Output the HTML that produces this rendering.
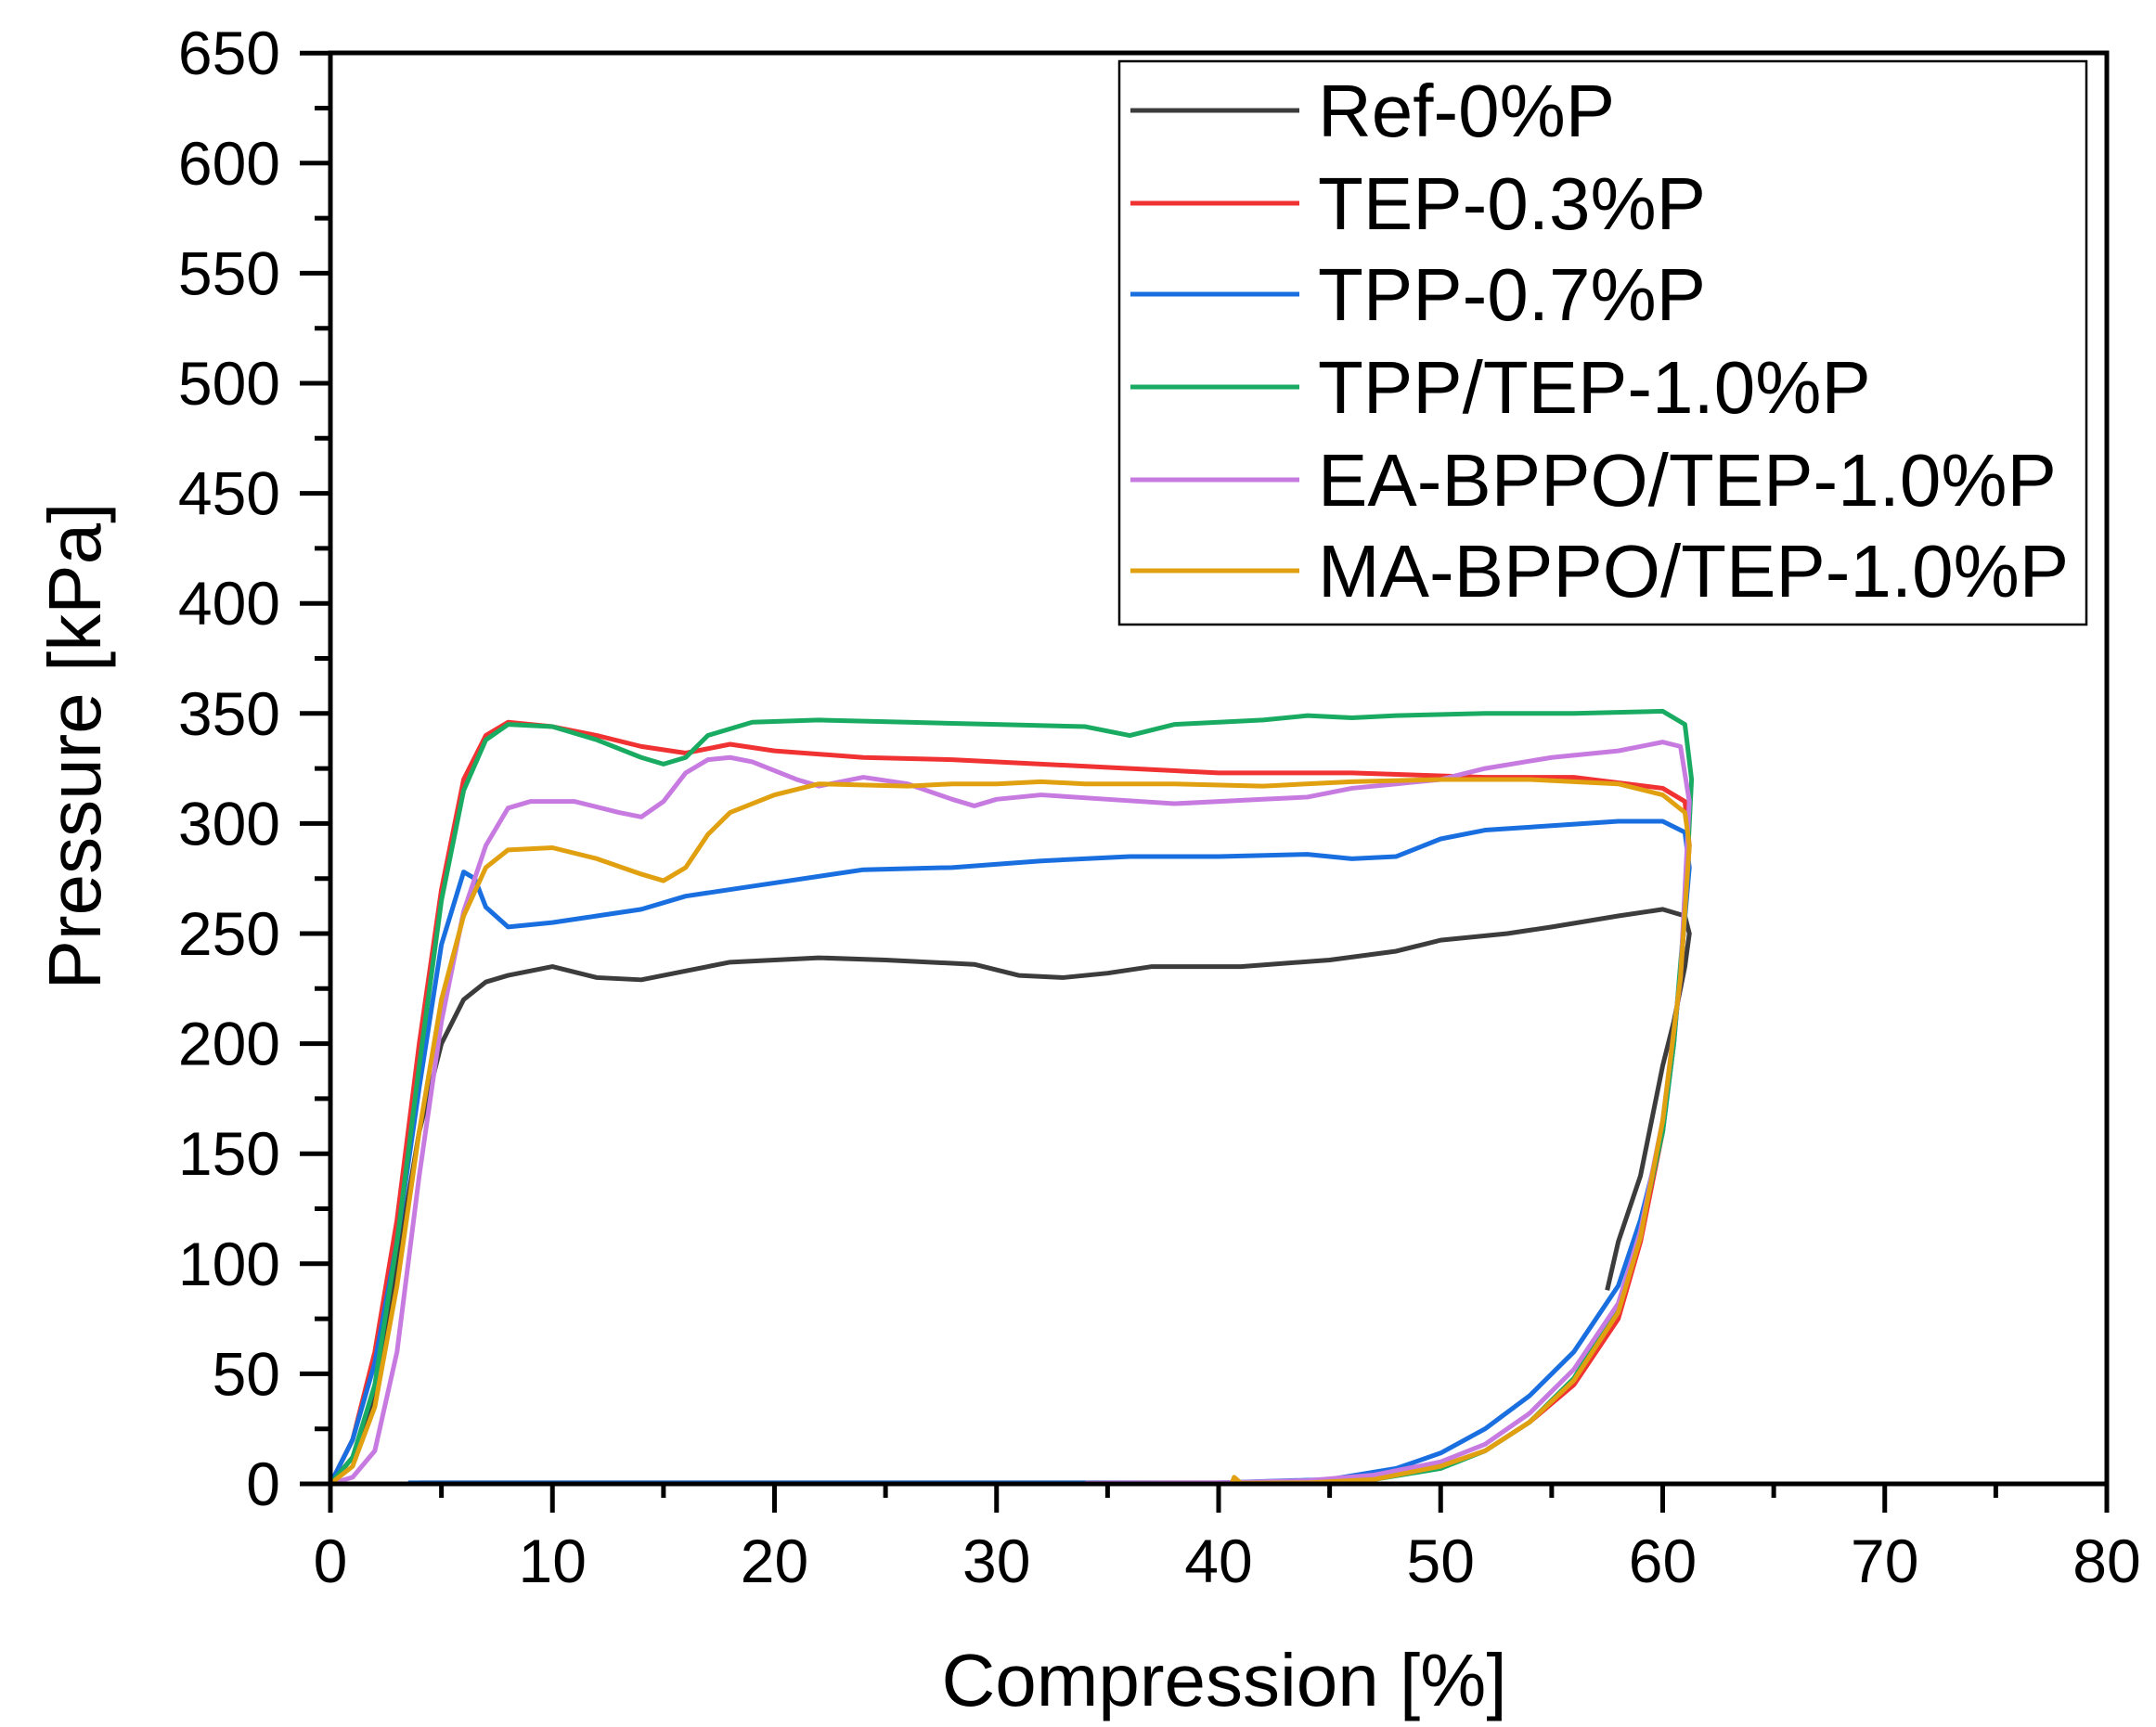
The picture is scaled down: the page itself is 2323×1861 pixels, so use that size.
<!DOCTYPE html>
<html><head><style>body{margin:0;background:#fff}svg{display:block}</style></head><body>
<svg width="2323" height="1861" viewBox="0 0 2323 1861" xmlns="http://www.w3.org/2000/svg" font-family="Liberation Sans, sans-serif">
<rect width="2323" height="1861" fill="#fff"/>
<g id="data" transform="translate(356,1599) scale(23.925,-2.372)" fill="none" stroke-width="5" stroke-linejoin="round">
<path vector-effect="non-scaling-stroke" stroke="#3c3c3c" d="M0,0 L1,12 2,40 3,100 4,160 5,200 6,220 7,228 8,231 10,235 12,230 14,229 16,233 18,237 22,239 25,238 29,236 31,231 33,230 35,232 37,235 41,235 45,238 48,242 50,247 53,250 55,253 58,258 60,261 61,258 61.2,250 61,235 60.5,210 60,190 59,140 58,110 57.5,88"/>
<path vector-effect="non-scaling-stroke" stroke="#f03232" d="M0,0 L1,20 2,60 3,120 4,200 5,270 6,320 7,340 8,346 10,344 12,340 14,335 16,332 18,336 20,333 24,330 28,329 32,327 36,325 40,323 46,323 52,321 56,321 60,316 61,310 61.2,290 60.8,230 60,160 59,110 58,75 56,45 54,28 52,15 50,8 47,3 44,1 40,0.5 4,0.5"/>
<path vector-effect="non-scaling-stroke" stroke="#1a6fe0" d="M0,0 L1,20 2,55 3,110 4,180 5,245 6,278 6.5,275 7,262 8,253 10,255 12,258 14,261 16,267 20,273 24,279 28,280 32,283 36,285 40,285 44,286 46,284 48,285 50,293 52,297 55,299 58,301 60,301 61,296 61.2,280 60.5,200 60,160 59,120 58,90 56,60 54,40 52,25 50,14 48,7 45,2 40,0.5 3.5,0.5"/>
<path vector-effect="non-scaling-stroke" stroke="#1aab62" d="M0,0 L1,12 2,45 3,110 4,190 5,265 6,315 7,338 8,345 10,344 12,338 14,330 15,327 16,330 17,340 19,346 22,347 26,346 30,345 34,344 36,340 38,345 42,347 44,349 46,348 48,349 52,350 56,350 60,351 61,345 61.3,320 61,260 60.5,200 60,160 59,115 58,80 56,48 54,28 52,15 50,7 47,2 44,0.5"/>
<path vector-effect="non-scaling-stroke" stroke="#c77be0" d="M0,0 L1,3 2,15 3,60 4,140 5,210 6,260 7,290 8,307 9,310 11,310 13,305 14,303 15,310 16,323 17,329 18,330 19,328 21,320 22,317 24,321 26,318 28,311 29,308 30,311 32,313 35,311 38,309 42,311 44,312 46,316 48,318 50,320 52,325 55,330 58,333 60,337 60.8,335 61.2,310 60.8,230 60,165 59,115 58,82 56,52 54,32 52,18 50,10 47,4 44,1.5 40,0.5 34,0.3"/>
<path vector-effect="non-scaling-stroke" stroke="#e0a010" d="M0,0 L1,8 2,35 3,90 4,160 5,220 6,258 7,280 8,288 10,289 12,284 14,277 15,274 16,280 17,295 18,305 20,313 22,318 26,317 28,318 30,318 32,319 34,318 38,318 42,317 46,319 50,320 54,320 58,318 60,313 61,305 61.2,290 60.8,230 60,165 59,112 58,78 56,47 54,28 52,15 50,8 47,2 44,0.5 41,0.3 40.7,3 40.6,0.3"/>
</g>
<g stroke="#000" stroke-width="5" fill="none">
<rect x="356" y="57" width="1914" height="1542"/>
</g>
<g stroke="#000" stroke-width="5" id="ticks"></g>
<g font-size="66" text-anchor="end" id="ylab"></g>
<g font-size="66" text-anchor="middle" id="xlab"></g>
<text x="1319" y="1838" font-size="80" text-anchor="middle">Compression [%]</text>
<text transform="translate(108,804) rotate(-90)" font-size="80" text-anchor="middle">Pressure [kPa]</text>
<rect x="1206" y="66" width="1042" height="607" fill="#fff" stroke="#000" stroke-width="2.5"/>
<g stroke-width="5">
<line x1="1218" y1="119" x2="1400" y2="119" stroke="#3c3c3c"/>
<line x1="1218" y1="219" x2="1400" y2="219" stroke="#f03232"/>
<line x1="1218" y1="317" x2="1400" y2="317" stroke="#1a6fe0"/>
<line x1="1218" y1="417" x2="1400" y2="417" stroke="#1aab62"/>
<line x1="1218" y1="517" x2="1400" y2="517" stroke="#c77be0"/>
<line x1="1218" y1="615" x2="1400" y2="615" stroke="#e0a010"/>
</g>
<g font-size="80">
<text x="1420" y="147">Ref-0%P</text>
<text x="1420" y="247">TEP-0.3%P</text>
<text x="1420" y="345">TPP-0.7%P</text>
<text x="1420" y="445">TPP/TEP-1.0%P</text>
<text x="1420" y="545">EA-BPPO/TEP-1.0%P</text>
<text x="1420" y="643">MA-BPPO/TEP-1.0%P</text>
</g>
<script>
var t=document.getElementById('ticks'),yl=document.getElementById('ylab'),xl=document.getElementById('xlab'),ns='http://www.w3.org/2000/svg';
function L(x1,y1,x2,y2){var l=document.createElementNS(ns,'line');l.setAttribute('x1',x1);l.setAttribute('y1',y1);l.setAttribute('x2',x2);l.setAttribute('y2',y2);t.appendChild(l);}
function T(g,x,y,s){var e=document.createElementNS(ns,'text');e.setAttribute('x',x);e.setAttribute('y',y);e.textContent=s;g.appendChild(e);}
for(var v=0;v<=650;v+=25){var y=1599-2.372*v;if(v%50==0){L(323,y,356,y);T(yl,302,y+23,v);}else L(339,y,356,y);}
for(var v=0;v<=80;v+=5){var x=356+23.925*v;if(v%10==0){L(x,1599,x,1630);T(xl,x,1705,v);}else L(x,1599,x,1614);}
</script>
</svg>
</body></html>
